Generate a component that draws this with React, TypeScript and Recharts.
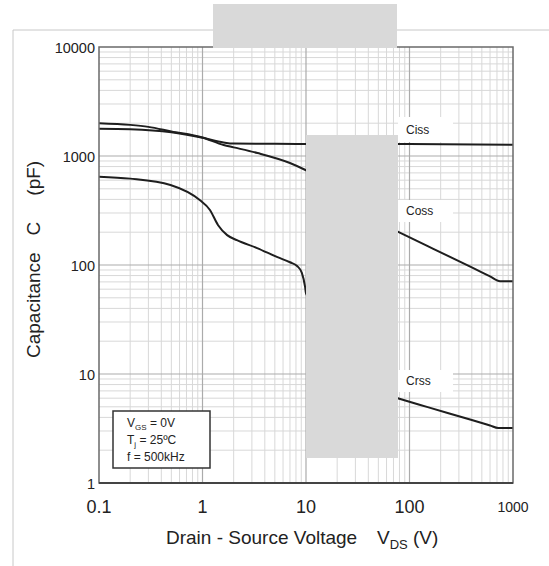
import { LineChart, Line, XAxis, YAxis, ReferenceLine } from "recharts";

// log-log capacitance vs drain-source voltage
const xTicks = [0.1, 1, 10, 100, 1000];
const yTicks = [1, 10, 100, 1000, 10000];
const xDecades = [0.1, 1, 10, 100];
const yDecades = [1, 10, 100, 1000];
const gridSteps = [2, 3, 4, 5, 6, 7, 8, 9];

const ciss = [
  { v: 0.1, c: 1780 },
  { v: 0.2, c: 1760 },
  { v: 0.5, c: 1650 },
  { v: 1, c: 1470 },
  { v: 1.6, c: 1330 },
  { v: 2, c: 1300 },
  { v: 5, c: 1295 },
  { v: 10, c: 1290 },
  { v: 100, c: 1290 },
  { v: 1000, c: 1270 },
];

const coss = [
  { v: 0.1, c: 2000 },
  { v: 0.2, c: 1930 },
  { v: 0.3, c: 1850 },
  { v: 0.5, c: 1680 },
  { v: 1, c: 1480 },
  { v: 1.6, c: 1260 },
  { v: 2, c: 1200 },
  { v: 3.4, c: 1065 },
  { v: 7, c: 863 },
  { v: 10, c: 740 },
  { v: 70, c: 211 },
  { v: 77, c: 202 },
  { v: 150, c: 149 },
  { v: 400, c: 95 },
  { v: 600, c: 78.7 },
  { v: 750, c: 71 },
  { v: 1000, c: 71 },
];

const crss = [
  { v: 0.1, c: 646 },
  { v: 0.2, c: 620 },
  { v: 0.49, c: 542 },
  { v: 0.94, c: 394 },
  { v: 1.18, c: 320 },
  { v: 1.41, c: 233 },
  { v: 1.73, c: 188 },
  { v: 2.15, c: 169 },
  { v: 3.37, c: 143 },
  { v: 5.3, c: 118 },
  { v: 7, c: 106 },
  { v: 8.2, c: 98 },
  { v: 9.1, c: 85 },
  { v: 9.8, c: 63 },
  { v: 10, c: 55 },
  { v: 70, c: 6.17 },
  { v: 77, c: 6.0 },
  { v: 150, c: 4.97 },
  { v: 400, c: 3.78 },
  { v: 600, c: 3.37 },
  { v: 720, c: 3.2 },
  { v: 1000, c: 3.2 },
];

const minorX = xDecades.flatMap((d) => gridSteps.map((s) => +(d * s).toPrecision(3)));
const minorY = yDecades.flatMap((d) => gridSteps.map((s) => +(d * s).toPrecision(3)));
const majorX = [1, 10, 100];
const majorY = [10, 100, 1000];

const FONT = "'Liberation Sans', Arial, sans-serif";
const INK = "#222";

const XTick = (props: any) => {
  const { x, y, payload } = props;
  const small = payload.value === 1000;
  return (
    <text
      x={x}
      y={y + (small ? 29 : 30)}
      textAnchor="middle"
      fontFamily={FONT}
      fontSize={small ? 14 : 18}
      fill={INK}
    >
      {payload.value}
    </text>
  );
};

const YTick = (props: any) => {
  const { x, y, payload } = props;
  return (
    <text x={x} y={y + 6} textAnchor="end" fontFamily={FONT} fontSize={14.5} fill={INK}>
      {payload.value}
    </text>
  );
};

const labelBoxes = [
  { name: "Ciss", top: 117, h: 25 },
  { name: "Coss", top: 200, h: 22 },
  { name: "Crss", top: 370, h: 22 },
];

export default function App() {
  return (
    <div style={{ position: "absolute", left: 0, top: 0, width: 549, height: 566, background: "#fff" }}>
      <LineChart
        width={549}
        height={566}
        margin={{ top: 47, right: 36, bottom: 0, left: 0 }}
      >
        <XAxis
          dataKey="v"
          type="number"
          scale="log"
          domain={[0.1, 1000]}
          allowDataOverflow
          ticks={xTicks}
          tick={XTick}
          tickLine={false}
          axisLine={false}
          tickSize={0}
          tickMargin={0}
          height={83}
        />
        <YAxis
          dataKey="c"
          type="number"
          scale="log"
          domain={[1, 10000]}
          allowDataOverflow
          ticks={yTicks}
          tick={YTick}
          tickLine={false}
          axisLine={false}
          tickSize={0}
          tickMargin={4}
          width={99}
        />
        {minorX.map((v) => (
          <ReferenceLine key={"mx" + v} x={v} stroke="#d8d8d8" strokeWidth={1} />
        ))}
        {minorY.map((v) => (
          <ReferenceLine key={"my" + v} y={v} stroke="#d8d8d8" strokeWidth={1} />
        ))}
        {majorX.map((v) => (
          <ReferenceLine key={"Mx" + v} x={v} stroke="#ababab" strokeWidth={1.2} />
        ))}
        {majorY.map((v) => (
          <ReferenceLine key={"My" + v} y={v} stroke="#ababab" strokeWidth={1.2} />
        ))}
        <Line data={ciss} dataKey="c" type="monotone" stroke="#1e1e1e" strokeWidth={2} dot={false} isAnimationActive={false} />
        <Line data={coss} dataKey="c" type="monotone" stroke="#1e1e1e" strokeWidth={2} dot={false} isAnimationActive={false} />
        <Line data={crss} dataKey="c" type="monotone" stroke="#1e1e1e" strokeWidth={2} dot={false} isAnimationActive={false} />
      </LineChart>

      <svg
        width={549}
        height={566}
        style={{ position: "absolute", left: 0, top: 0, pointerEvents: "none" }}
      >
        {/* outer frame */}
        <line x1={13} y1={30} x2={549} y2={30} stroke="#c8c8c8" strokeWidth={1} />
        <line x1={13} y1={30} x2={13} y2={566} stroke="#c8c8c8" strokeWidth={1} />

        {/* plot border */}
        <rect x={99} y={47} width={414} height={436} fill="none" stroke="#6a6a6a" strokeWidth={1.5} />
        <line x1={99} y1={483} x2={513} y2={483} stroke="#444" strokeWidth={2} />

        {/* curve labels */}
        {labelBoxes.map((b) => (
          <g key={b.name}>
            <rect x={398} y={b.top} width={55} height={b.h} fill="#fff" />
            <text x={406} y={b.top + b.h / 2 + 4} fontFamily={FONT} fontSize={12} fill={INK}>
              {b.name}
            </text>
          </g>
        ))}

        {/* conditions box */}
        <rect x={113} y={411} width={97} height={57} fill="#fff" stroke="#333" strokeWidth={1.5} />
        <text fontFamily={FONT} fontSize={12} fill={INK}>
          <tspan x={127} y={427}>V</tspan>
          <tspan fontSize={8} dy={3}>GS</tspan>
          <tspan dy={-3}> = 0V</tspan>
        </text>
        <text fontFamily={FONT} fontSize={12} fill={INK}>
          <tspan x={127} y={444}>T</tspan>
          <tspan fontSize={8} dy={3}>j</tspan>
          <tspan dy={-3}> = 25ºC</tspan>
        </text>
        <text x={127} y={461} fontFamily={FONT} fontSize={12} fill={INK}>
          f = 500kHz
        </text>

        {/* axis titles */}
        <text fontFamily={FONT} fontSize={19} fill={INK}>
          <tspan x={166} y={544}>Drain - Source Voltage</tspan>
          <tspan x={377}>V</tspan>
          <tspan fontSize={13} dy={5}>DS</tspan>
          <tspan dy={-5}> (V)</tspan>
        </text>
        <text
          x={40}
          y={358}
          transform="rotate(-90 40 358)"
          fontFamily={FONT}
          fontSize={19}
          fill={INK}
        >
          <tspan>Capacitance</tspan>
          <tspan dx={17}>C</tspan>
          <tspan dx={26}>(pF)</tspan>
        </text>

        {/* occluding patches */}
        <rect x={213} y={4} width={184} height={44} fill="#d9d9d9" />
        <rect x={306} y={135} width={92} height={323} fill="#d9d9d9" />
      </svg>
    </div>
  );
}
